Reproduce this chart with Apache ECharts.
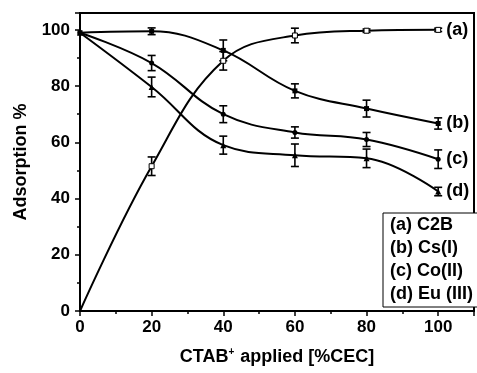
<!DOCTYPE html>
<html>
<head>
<meta charset="utf-8">
<script src="https://cdn.jsdelivr.net/npm/echarts@6/dist/echarts.min.js"></script>
<style>
  html, body { margin: 0; padding: 0; background: #fff; }
  #chart { width: 477px; height: 373px; }
</style>
</head>
<body>
<div id="chart"></div>
<script>
// CTAB applied (%CEC)
const xValues = [0, 20, 40, 60, 80, 100];

// adsorption %, with +/- error
const c2b = [0, 51.5, 89, 98, 99.7, 100];
const c2bErr = [0, 3.3, 3.3, 2.6, 0.6, 0.6];
const cs = [99, 99.5, 92.7, 78.3, 72, 66.7];
const csErr = [0, 1.2, 3.7, 2.5, 3, 2];
const co = [99, 88.2, 70, 63.5, 61, 54];
const coErr = [0, 2.7, 3, 2, 2.5, 3.3];
const eu = [99, 79.7, 59, 55.4, 54.3, 42.5];
const euErr = [0, 3.5, 3.2, 4, 3.3, 1.5];

const seriesNames = ['(a) C2B', '(b) Cs(I)', '(c) Co(II)', '(d) Eu (III)'];
const endTags = ['(a)', '(b)', '(c)', '(d)'];
const xTicks = [0, 20, 40, 60, 80, 100];
const yTicks = [0, 20, 40, 60, 80, 100];

const FONT = '"Liberation Sans", Arial, sans-serif';
const BOLD = { fontFamily: FONT, fontWeight: 'bold', color: '#000' };

const chart = echarts.init(document.getElementById('chart'));

function pts(vals) {
	return xValues.map((x, i) => [x, vals[i]]);
}

function errData(vals, errs) {
	return xValues
		.map((x, i) => [x, vals[i] - errs[i], vals[i] + errs[i]])
		.filter(d => d[2] > d[1]);
}

// I-shaped error bars through the axis scales
function errorBars(vals, errs) {
	return {
		type: 'custom',
		silent: true,
		z: 3,
		data: errData(vals, errs),
		renderItem: (params, api) => {
			const lo = api.coord([api.value(0), api.value(1)]);
			const hi = api.coord([api.value(0), api.value(2)]);
			const w = 4;
			const style = { stroke: '#000', lineWidth: 1.6 };
			return {
				type: 'group',
				children: [
					{ type: 'line', shape: { x1: lo[0], y1: lo[1], x2: hi[0], y2: hi[1] }, style },
					{ type: 'line', shape: { x1: lo[0] - w, y1: lo[1], x2: lo[0] + w, y2: lo[1] }, style },
					{ type: 'line', shape: { x1: hi[0] - w, y1: hi[1], x2: hi[0] + w, y2: hi[1] }, style },
				],
			};
		},
	};
}

function curve(name, vals, symbol, size, hollow, tag) {
	const data = pts(vals);
	return {
		name,
		type: 'line',
		data,
		smooth: 0.4,
		z: 4,
		symbol,
		symbolSize: size,
		showAllSymbol: true,
		lineStyle: { color: '#000', width: 2 },
		itemStyle: hollow
			? { color: '#fff', borderColor: '#000', borderWidth: 1 }
			: { color: '#000' },
		endLabel: {
			show: true,
			formatter: tag,
			distance: 8,
			fontSize: 18,
			...BOLD,
		},
		emphasis: { disabled: true },
	};
}

const c2bSeries = curve(seriesNames[0], c2b, 'rect', 5, true, endTags[0]);
c2bSeries.data[0] = { value: [0, 0], symbol: 'none' };

chart.setOption({
	animation: false,
	textStyle: { fontFamily: FONT },
	grid: {
		left: 80, right: -6, top: 13, bottom: 62,
		show: true, borderColor: '#000', borderWidth: 2,
	},
	legend: {
		data: seriesNames,
		orient: 'vertical',
		left: 383,
		top: 213,
		icon: 'none',
		itemWidth: 0,
		itemHeight: 18,
		itemGap: 5,
		padding: [3, 30, 4, 2],
		borderColor: '#000',
		borderWidth: 1,
		backgroundColor: '#fff',
		selectedMode: false,
		textStyle: { fontSize: 18, ...BOLD },
	},
	xAxis: {
		type: 'value',
		min: 0,
		max: 110,
		interval: 20,
		name: '{m|CTAB}{s|+}{m| applied [%CEC]}',
		nameLocation: 'middle',
		nameGap: 36,
		nameTextStyle: {
			rich: {
				m: { fontSize: 18, ...BOLD, lineHeight: 20 },
				s: { fontSize: 10, ...BOLD, verticalAlign: 'top', lineHeight: 20, padding: [0, 1, 6, 0] },
			},
		},
		axisLine: { show: true, onZero: false, lineStyle: { color: '#000', width: 2 } },
		axisTick: { show: true, length: 5, lineStyle: { color: '#000', width: 1.5 } },
		minorTick: { show: true, splitNumber: 2, length: 3, lineStyle: { color: '#000', width: 1.5 } },
		splitLine: { show: false },
		axisLabel: {
			margin: 8,
			fontSize: 17,
			...BOLD,
			formatter: v => (xTicks.includes(v) ? String(v) : ''),
		},
	},
	yAxis: {
		type: 'value',
		min: 0,
		max: 106,
		interval: 20,
		name: 'Adsorption %',
		nameLocation: 'middle',
		nameGap: 50,
		nameTextStyle: { fontSize: 18, ...BOLD },
		axisLine: { show: true, lineStyle: { color: '#000', width: 2 } },
		axisTick: { show: true, length: 5, lineStyle: { color: '#000', width: 1.5 } },
		minorTick: { show: true, splitNumber: 2, length: 3, lineStyle: { color: '#000', width: 1.5 } },
		splitLine: { show: false },
		axisLabel: {
			margin: 10,
			fontSize: 17,
			...BOLD,
			formatter: v => (yTicks.includes(v) ? String(v) : ''),
		},
	},
	series: [
		c2bSeries,
		curve(seriesNames[1], cs, 'rect', 5, false, endTags[1]),
		curve(seriesNames[2], co, 'circle', 5, false, endTags[2]),
		curve(seriesNames[3], eu, 'triangle', 6, false, endTags[3]),
		errorBars(c2b, c2bErr),
		errorBars(cs, csErr),
		errorBars(co, coErr),
		errorBars(eu, euErr),
	],
});
</script>
</body>
</html>
